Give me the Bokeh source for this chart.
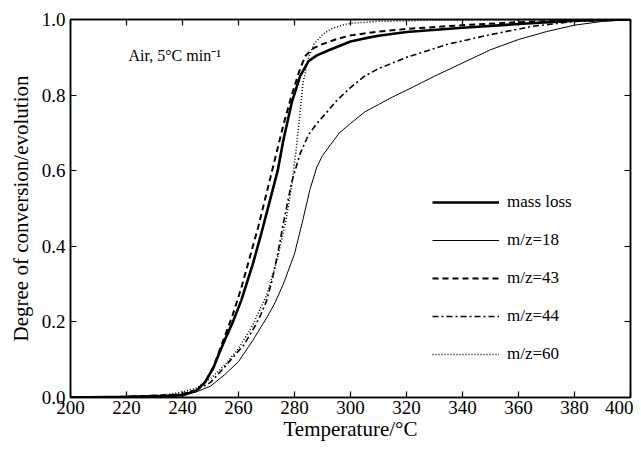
from bokeh.plotting import figure
from bokeh.models import (LinearAxis, Range1d, FixedTicker, PrintfTickFormatter,
                          Legend, LegendItem, Label)
from bokeh.embed import file_html
from bokeh.resources import INLINE

# ---------------- data ----------------
t_mass = [200, 220, 235, 240, 245, 248, 251, 253, 255, 258, 261, 265, 268, 271, 274, 276, 279, 282,
          285, 288, 292, 296, 300, 305, 310, 320, 340, 360, 380, 400]
v_mass = [0, 0.002, 0.004, 0.006, 0.018, 0.04, 0.078, 0.115, 0.15, 0.2, 0.257, 0.35, 0.43, 0.515,
          0.6, 0.68, 0.78, 0.85, 0.89, 0.905, 0.918, 0.93, 0.942, 0.95, 0.957, 0.967, 0.978, 0.988,
          0.997, 1.0]

t_18 = [200, 230, 240, 245, 250, 255, 260, 265, 270, 273, 276, 280, 283, 285.5, 288, 290, 293, 296,
        300, 305, 310, 315, 322, 330, 340, 350, 360, 370, 380, 390, 400]
v_18 = [0, 0.003, 0.008, 0.015, 0.03, 0.06, 0.095, 0.15, 0.21, 0.25, 0.30, 0.38, 0.47, 0.55, 0.61,
        0.64, 0.67, 0.70, 0.725, 0.755, 0.775, 0.795, 0.82, 0.85, 0.885, 0.92, 0.947, 0.968, 0.985,
        0.995, 1.0]

t_43 = [200, 220, 240, 245, 248, 251, 253, 255, 258, 261, 264, 267, 270, 273, 276, 279, 282, 284,
        287, 290, 295, 300, 310, 320, 340, 360, 380, 400]
v_43 = [0, 0.002, 0.008, 0.02, 0.04, 0.08, 0.12, 0.16, 0.22, 0.29, 0.37, 0.45, 0.54, 0.63, 0.72,
        0.8, 0.87, 0.905, 0.925, 0.935, 0.948, 0.958, 0.968, 0.975, 0.985, 0.993, 0.998, 1.0]

t_44 = [200, 230, 240, 245, 250, 255, 262, 266, 268, 270, 272, 274, 276, 279, 282, 285, 288, 291,
        295, 300, 305, 310, 320, 335, 350, 365, 380, 400]
v_44 = [0, 0.003, 0.01, 0.02, 0.04, 0.08, 0.14, 0.19, 0.22, 0.255, 0.31, 0.38, 0.46, 0.57, 0.645,
        0.695, 0.725, 0.75, 0.785, 0.82, 0.85, 0.87, 0.9, 0.935, 0.96, 0.982, 0.995, 1.0]

t_60 = [200, 220, 235, 240, 245, 250, 255, 260, 265, 270, 274, 277, 279, 280.5, 281.5, 283, 285,
        287, 290, 293, 297, 300, 310, 330, 400]
v_60 = [0, 0.002, 0.008, 0.015, 0.025, 0.05, 0.085, 0.13, 0.19, 0.27, 0.37, 0.47, 0.56, 0.65,
        0.72, 0.83, 0.9, 0.935, 0.96, 0.975, 0.985, 0.99, 0.995, 0.998, 1.0]

series_names = ["mass loss", "m/z=18", "m/z=43", "m/z=44", "m/z=60"]
x_ticks = [200, 220, 240, 260, 280, 300, 320, 340, 360, 380, 400]
y_ticks = [0.0, 0.2, 0.4, 0.6, 0.8, 1.0]

FONT = "Liberation Serif"

p = figure(width=633, height=443, output_backend="svg", toolbar_location=None,
           x_range=Range1d(200, 400), y_range=Range1d(0, 1.0),
           min_border_left=70, min_border_right=3, min_border_top=19, min_border_bottom=44,
           x_axis_label="Temperature/°C", y_axis_label="Degree of conversion/evolution")
p.grid.visible = False
p.outline_line_color = "black"
p.outline_line_width = 1.5
p.background_fill_color = "white"
p.border_fill_color = "white"

for ax in (p.xaxis[0], p.yaxis[0]):
    ax.axis_line_width = 1.5
    ax.major_tick_in = 6
    ax.major_tick_out = 0
    ax.minor_tick_in = 0
    ax.minor_tick_out = 0
    ax.major_tick_line_width = 1.2
    ax.major_label_text_font = FONT
    ax.major_label_text_font_size = "19px"
    ax.major_label_text_color = "black"
    ax.axis_label_text_font = FONT
    ax.axis_label_text_font_size = "21px"
    ax.axis_label_text_font_style = "normal"
    ax.axis_label_text_color = "black"

p.xaxis[0].ticker = FixedTicker(ticks=x_ticks)
p.yaxis[0].ticker = FixedTicker(ticks=y_ticks)
p.yaxis[0].formatter = PrintfTickFormatter(format="%.1f")
p.xaxis[0].major_label_standoff = 3
p.xaxis[0].axis_label_standoff = 0
p.yaxis[0].major_label_standoff = 5
p.yaxis[0].axis_label_standoff = 6

top = LinearAxis(ticker=FixedTicker(ticks=x_ticks), major_tick_in=6, major_tick_out=0,
                 minor_tick_in=0, minor_tick_out=0, major_label_text_font_size="0px",
                 axis_line_width=1.5, major_tick_line_width=1.2, major_label_standoff=0)
right = LinearAxis(ticker=FixedTicker(ticks=y_ticks), major_tick_in=6, major_tick_out=0,
                   minor_tick_in=0, minor_tick_out=0, major_label_text_font_size="0px",
                   axis_line_width=1.5, major_tick_line_width=1.2, major_label_standoff=0)
p.add_layout(top, "above")
p.add_layout(right, "right")

r_mass = p.line(t_mass, v_mass, line_color="black", line_width=2.6)
r_18 = p.line(t_18, v_18, line_color="black", line_width=1.0)
r_43 = p.line(t_43, v_43, line_color="black", line_width=2.0, line_dash="6 4")
r_44 = p.line(t_44, v_44, line_color="black", line_width=1.6, line_dash="6 3 2 3")
r_60 = p.line(t_60, v_60, line_color="black", line_width=1.5, line_dash="1 2")

renderers = [r_mass, r_18, r_43, r_44, r_60]
legend = Legend(items=[LegendItem(label=n, renderers=[r]) for n, r in zip(series_names, renderers)],
                location=(362, 33), orientation="vertical",
                glyph_width=67, glyph_height=20, label_standoff=8, spacing=18,
                padding=0, margin=0, border_line_alpha=0, background_fill_alpha=0,
                label_text_font=FONT, label_text_font_size="17px", label_text_color="black")
p.add_layout(legend, "center")

note = Label(x=58, y=334, x_units="screen", y_units="screen", text="Air, 5°C min⁻¹",
             text_font=FONT, text_font_size="16px", text_color="black")
p.add_layout(note)

open("out.html", "w").write(file_html(p, INLINE))
